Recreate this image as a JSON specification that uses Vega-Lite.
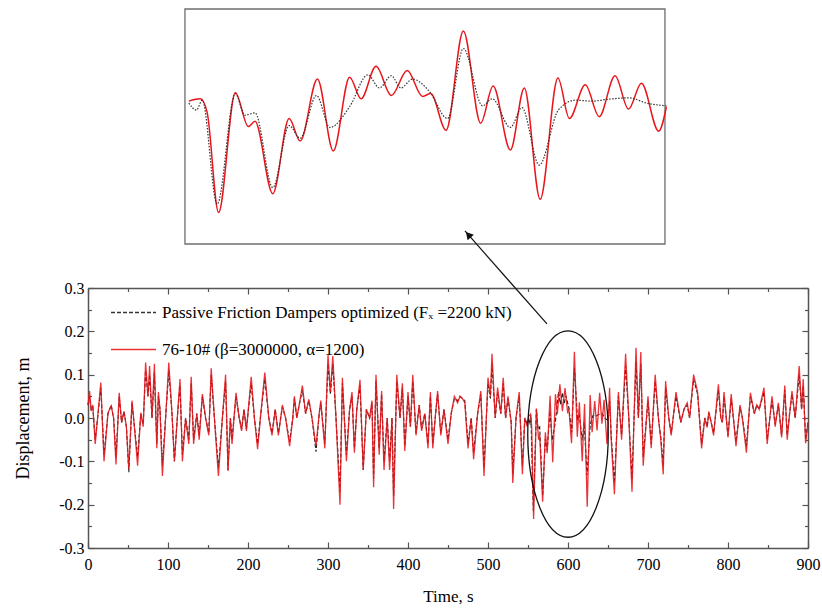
{
"$schema":"https://vega.github.io/schema/vega-lite/v6.json",
"background":"white",
"padding":{"left":14,"top":8,"right":5,"bottom":5},
"autosize":{"type":"pad"},
"config":{"view":{"stroke":null},"font":"Liberation Serif"},
"spacing":44,
"bounds":"flush",
"resolve":{"scale":{"color":"independent","strokeDash":"independent"}},
"datasets":{"d":[
{"t":0,"v":0.03,"s":"r"},{"t":2,"v":0.062,"s":"r"},{"t":4,"v":0.016,"s":"r"},{"t":6,"v":0.03,"s":"r"},{"t":9,"v":-0.06,"s":"r"},{"t":12,"v":0.0,"s":"r"},{"t":16,"v":0.082,"s":"r"},{"t":20,"v":-0.1,"s":"r"},{"t":25,"v":0.012,"s":"r"},{"t":29,"v":0.028,"s":"r"},{"t":32,"v":0.0,"s":"r"},{"t":35,"v":-0.107,"s":"r"},{"t":39,"v":0.058,"s":"r"},{"t":42,"v":-0.01,"s":"r"},{"t":45,"v":0.015,"s":"r"},{"t":48,"v":-0.02,"s":"r"},{"t":51,"v":-0.118,"s":"r"},{"t":55,"v":0.04,"s":"r"},{"t":58,"v":-0.02,"s":"r"},{"t":62,"v":-0.11,"s":"r"},{"t":66,"v":0.012,"s":"r"},{"t":69,"v":-0.02,"s":"r"},{"t":72,"v":0.128,"s":"r"},{"t":75,"v":0.05,"s":"r"},{"t":77,"v":0.12,"s":"r"},{"t":80,"v":0.0,"s":"r"},{"t":83,"v":0.125,"s":"r"},{"t":86,"v":-0.07,"s":"r"},{"t":88,"v":0.06,"s":"r"},{"t":90,"v":0.02,"s":"r"},{"t":93,"v":-0.134,"s":"r"},{"t":97,"v":0.0,"s":"r"},{"t":101,"v":0.128,"s":"r"},{"t":105,"v":0.01,"s":"r"},{"t":108,"v":-0.1,"s":"r"},{"t":112,"v":0.01,"s":"r"},{"t":115,"v":0.09,"s":"r"},{"t":118,"v":-0.1,"s":"r"},{"t":122,"v":0.0,"s":"r"},{"t":126,"v":-0.06,"s":"r"},{"t":129,"v":0.095,"s":"r"},{"t":132,"v":-0.06,"s":"r"},{"t":136,"v":0.01,"s":"r"},{"t":139,"v":-0.05,"s":"r"},{"t":143,"v":0.055,"s":"r"},{"t":147,"v":0.0,"s":"r"},{"t":151,"v":-0.04,"s":"r"},{"t":154,"v":0.115,"s":"r"},{"t":158,"v":0.0,"s":"r"},{"t":163,"v":-0.134,"s":"r"},{"t":168,"v":0.0,"s":"r"},{"t":172,"v":0.1,"s":"r"},{"t":175,"v":-0.122,"s":"r"},{"t":178,"v":0.0,"s":"r"},{"t":180,"v":-0.06,"s":"r"},{"t":185,"v":0.058,"s":"r"},{"t":189,"v":0.0,"s":"r"},{"t":192,"v":-0.03,"s":"r"},{"t":195,"v":0.02,"s":"r"},{"t":198,"v":-0.03,"s":"r"},{"t":204,"v":0.095,"s":"r"},{"t":208,"v":0.0,"s":"r"},{"t":212,"v":-0.072,"s":"r"},{"t":216,"v":0.01,"s":"r"},{"t":221,"v":0.105,"s":"r"},{"t":226,"v":0.0,"s":"r"},{"t":230,"v":-0.04,"s":"r"},{"t":234,"v":0.02,"s":"r"},{"t":238,"v":-0.04,"s":"r"},{"t":243,"v":0.03,"s":"r"},{"t":247,"v":0.0,"s":"r"},{"t":252,"v":-0.065,"s":"r"},{"t":256,"v":0.0,"s":"r"},{"t":258,"v":0.05,"s":"r"},{"t":261,"v":0.0,"s":"r"},{"t":264,"v":0.03,"s":"r"},{"t":268,"v":0.075,"s":"r"},{"t":272,"v":0.01,"s":"r"},{"t":276,"v":0.043,"s":"r"},{"t":280,"v":0.0,"s":"r"},{"t":285,"v":-0.065,"s":"r"},{"t":289,"v":0.01,"s":"r"},{"t":291,"v":0.04,"s":"r"},{"t":296,"v":-0.07,"s":"r"},{"t":300,"v":0.145,"s":"r"},{"t":303,"v":0.06,"s":"r"},{"t":306,"v":0.143,"s":"r"},{"t":310,"v":0.0,"s":"r"},{"t":315,"v":-0.2,"s":"r"},{"t":318,"v":0.093,"s":"r"},{"t":323,"v":-0.1,"s":"r"},{"t":327,"v":0.02,"s":"r"},{"t":330,"v":0.06,"s":"r"},{"t":333,"v":-0.08,"s":"r"},{"t":336,"v":0.02,"s":"r"},{"t":340,"v":0.088,"s":"r"},{"t":344,"v":-0.12,"s":"r"},{"t":348,"v":0.02,"s":"r"},{"t":352,"v":0.0,"s":"r"},{"t":355,"v":0.04,"s":"r"},{"t":357,"v":-0.16,"s":"r"},{"t":360,"v":0.1,"s":"r"},{"t":364,"v":-0.085,"s":"r"},{"t":367,"v":0.062,"s":"r"},{"t":370,"v":-0.12,"s":"r"},{"t":374,"v":0.0,"s":"r"},{"t":377,"v":-0.12,"s":"r"},{"t":380,"v":0.0,"s":"r"},{"t":382,"v":-0.21,"s":"r"},{"t":386,"v":0.1,"s":"r"},{"t":390,"v":0.0,"s":"r"},{"t":393,"v":0.08,"s":"r"},{"t":396,"v":-0.076,"s":"r"},{"t":400,"v":0.06,"s":"r"},{"t":403,"v":-0.02,"s":"r"},{"t":406,"v":0.1,"s":"r"},{"t":410,"v":-0.04,"s":"r"},{"t":414,"v":0.03,"s":"r"},{"t":417,"v":-0.03,"s":"r"},{"t":421,"v":0.01,"s":"r"},{"t":425,"v":-0.07,"s":"r"},{"t":428,"v":0.06,"s":"r"},{"t":431,"v":-0.07,"s":"r"},{"t":434,"v":0.0,"s":"r"},{"t":437,"v":0.062,"s":"r"},{"t":441,"v":-0.04,"s":"r"},{"t":445,"v":0.02,"s":"r"},{"t":450,"v":-0.06,"s":"r"},{"t":454,"v":0.01,"s":"r"},{"t":458,"v":0.05,"s":"r"},{"t":462,"v":0.035,"s":"r"},{"t":465,"v":0.05,"s":"r"},{"t":468,"v":0.045,"s":"r"},{"t":471,"v":0.035,"s":"r"},{"t":475,"v":-0.07,"s":"r"},{"t":479,"v":0.0,"s":"r"},{"t":482,"v":-0.095,"s":"r"},{"t":487,"v":0.01,"s":"r"},{"t":491,"v":0.062,"s":"r"},{"t":495,"v":-0.134,"s":"r"},{"t":500,"v":0.093,"s":"r"},{"t":503,"v":0.05,"s":"r"},{"t":505,"v":0.148,"s":"r"},{"t":509,"v":0.0,"s":"r"},{"t":512,"v":0.07,"s":"r"},{"t":516,"v":0.01,"s":"r"},{"t":519,"v":0.093,"s":"r"},{"t":522,"v":0.0,"s":"r"},{"t":525,"v":0.05,"s":"r"},{"t":529,"v":-0.01,"s":"r"},{"t":531,"v":-0.15,"s":"r"},{"t":535,"v":0.0,"s":"r"},{"t":539,"v":0.06,"s":"r"},{"t":543,"v":-0.13,"s":"r"},{"t":546,"v":0.0,"s":"r"},{"t":549,"v":-0.02,"s":"r"},
{"t":550.8,"v":0.004,"s":"r"},{"t":553.2,"v":0.009,"s":"r"},{"t":554.6,"v":-0.019,"s":"r"},{"t":557,"v":-0.233,"s":"r"},{"t":560.5,"v":0.022,"s":"r"},{"t":563.2,"v":-0.05,"s":"r"},{"t":564.6,"v":-0.039,"s":"r"},{"t":568.3,"v":-0.193,"s":"r"},{"t":571.7,"v":-0.033,"s":"r"},{"t":574,"v":-0.081,"s":"r"},{"t":577.6,"v":0.051,"s":"r"},{"t":580.9,"v":-0.102,"s":"r"},{"t":584.3,"v":0.055,"s":"r"},{"t":586.7,"v":0.009,"s":"r"},{"t":589.8,"v":0.078,"s":"r"},{"t":593,"v":0.016,"s":"r"},{"t":596.3,"v":0.069,"s":"r"},{"t":599.5,"v":0.014,"s":"r"},{"t":601.2,"v":0.02,"s":"r"},{"t":604.4,"v":-0.058,"s":"r"},{"t":608,"v":0.153,"s":"r"},{"t":611.6,"v":-0.043,"s":"r"},{"t":614.2,"v":0.036,"s":"r"},{"t":617.8,"v":-0.1,"s":"r"},{"t":620.7,"v":0.032,"s":"r"},{"t":624,"v":-0.205,"s":"r"},{"t":627.7,"v":0.053,"s":"r"},{"t":630.1,"v":-0.033,"s":"r"},{"t":633.4,"v":0.039,"s":"r"},{"t":636.3,"v":-0.029,"s":"r"},{"t":639.6,"v":0.058,"s":"r"},{"t":642.4,"v":-0.013,"s":"r"},{"t":645.1,"v":0.042,"s":"r"},{"t":648.7,"v":-0.06,"s":"r"},{"t":650.3,"v":-0.008,"s":"r"},
{"t":652,"v":0.07,"s":"r"},{"t":654,"v":-0.05,"s":"r"},{"t":658,"v":-0.176,"s":"r"},{"t":663,"v":0.06,"s":"r"},{"t":667,"v":-0.05,"s":"r"},{"t":672,"v":0.148,"s":"r"},{"t":676,"v":0.0,"s":"r"},{"t":680,"v":-0.17,"s":"r"},{"t":685,"v":0.162,"s":"r"},{"t":688,"v":0.0,"s":"r"},{"t":691,"v":0.152,"s":"r"},{"t":694,"v":-0.11,"s":"r"},{"t":700,"v":0.05,"s":"r"},{"t":704,"v":-0.07,"s":"r"},{"t":709,"v":0.1,"s":"r"},{"t":713,"v":0.0,"s":"r"},{"t":716,"v":-0.05,"s":"r"},{"t":719,"v":-0.13,"s":"r"},{"t":722,"v":0.085,"s":"r"},{"t":726,"v":0.0,"s":"r"},{"t":729,"v":-0.04,"s":"r"},{"t":735,"v":0.06,"s":"r"},{"t":741,"v":-0.01,"s":"r"},{"t":745,"v":0.02,"s":"r"},{"t":749,"v":0.035,"s":"r"},{"t":752,"v":0.0,"s":"r"},{"t":757,"v":0.1,"s":"r"},{"t":762,"v":0.06,"s":"r"},{"t":767,"v":-0.07,"s":"r"},{"t":771,"v":0.0,"s":"r"},{"t":774,"v":-0.022,"s":"r"},{"t":776,"v":0.015,"s":"r"},{"t":779,"v":-0.01,"s":"r"},{"t":782,"v":-0.04,"s":"r"},{"t":788,"v":0.078,"s":"r"},{"t":791,"v":0.0,"s":"r"},{"t":793,"v":-0.01,"s":"r"},{"t":795,"v":0.06,"s":"r"},{"t":800,"v":-0.045,"s":"r"},{"t":804,"v":0.055,"s":"r"},{"t":810,"v":-0.065,"s":"r"},{"t":815,"v":0.03,"s":"r"},{"t":818,"v":0.0,"s":"r"},{"t":823,"v":-0.08,"s":"r"},{"t":828,"v":0.058,"s":"r"},{"t":833,"v":0.01,"s":"r"},{"t":836,"v":0.03,"s":"r"},{"t":839,"v":0.02,"s":"r"},{"t":845,"v":0.07,"s":"r"},{"t":849,"v":-0.06,"s":"r"},{"t":855,"v":0.05,"s":"r"},{"t":859,"v":-0.02,"s":"r"},{"t":863,"v":0.035,"s":"r"},{"t":867,"v":-0.045,"s":"r"},{"t":871,"v":0.075,"s":"r"},{"t":874,"v":-0.05,"s":"r"},{"t":877,"v":0.01,"s":"r"},{"t":880,"v":0.062,"s":"r"},{"t":884,"v":0.0,"s":"r"},{"t":889,"v":0.12,"s":"r"},{"t":892,"v":0.02,"s":"r"},{"t":894,"v":0.09,"s":"r"},{"t":897,"v":-0.058,"s":"r"},{"t":900,"v":-0.01,"s":"r"},
{"t":0,"v":0.03,"s":"p"},{"t":2,"v":0.05,"s":"p"},{"t":4,"v":0.02,"s":"p"},{"t":6,"v":0.025,"s":"p"},{"t":9,"v":-0.05,"s":"p"},{"t":12,"v":0.0,"s":"p"},{"t":16,"v":0.07,"s":"p"},{"t":20,"v":-0.085,"s":"p"},{"t":25,"v":0.01,"s":"p"},{"t":29,"v":0.03,"s":"p"},{"t":32,"v":0.0,"s":"p"},{"t":35,"v":-0.09,"s":"p"},{"t":39,"v":0.05,"s":"p"},{"t":42,"v":-0.01,"s":"p"},{"t":45,"v":0.015,"s":"p"},{"t":48,"v":-0.02,"s":"p"},{"t":51,"v":-0.125,"s":"p"},{"t":55,"v":0.035,"s":"p"},{"t":58,"v":-0.02,"s":"p"},{"t":62,"v":-0.09,"s":"p"},{"t":66,"v":0.01,"s":"p"},{"t":69,"v":-0.015,"s":"p"},{"t":72,"v":0.11,"s":"p"},{"t":75,"v":0.05,"s":"p"},{"t":77,"v":0.1,"s":"p"},{"t":80,"v":0.0,"s":"p"},{"t":83,"v":0.105,"s":"p"},{"t":86,"v":-0.06,"s":"p"},{"t":88,"v":0.05,"s":"p"},{"t":90,"v":0.02,"s":"p"},{"t":93,"v":-0.11,"s":"p"},{"t":97,"v":0.0,"s":"p"},{"t":101,"v":0.11,"s":"p"},{"t":105,"v":0.01,"s":"p"},{"t":108,"v":-0.1,"s":"p"},{"t":112,"v":0.01,"s":"p"},{"t":115,"v":0.075,"s":"p"},{"t":118,"v":-0.085,"s":"p"},{"t":122,"v":0.0,"s":"p"},{"t":126,"v":-0.05,"s":"p"},{"t":129,"v":0.08,"s":"p"},{"t":132,"v":-0.05,"s":"p"},{"t":136,"v":0.01,"s":"p"},{"t":139,"v":-0.04,"s":"p"},{"t":143,"v":0.05,"s":"p"},{"t":147,"v":0.0,"s":"p"},{"t":151,"v":-0.035,"s":"p"},{"t":154,"v":0.1,"s":"p"},{"t":158,"v":0.0,"s":"p"},{"t":163,"v":-0.115,"s":"p"},{"t":168,"v":0.0,"s":"p"},{"t":172,"v":0.085,"s":"p"},{"t":175,"v":-0.12,"s":"p"},{"t":178,"v":0.0,"s":"p"},{"t":180,"v":-0.05,"s":"p"},{"t":185,"v":0.05,"s":"p"},{"t":189,"v":0.0,"s":"p"},{"t":192,"v":-0.025,"s":"p"},{"t":195,"v":0.02,"s":"p"},{"t":198,"v":-0.025,"s":"p"},{"t":204,"v":0.08,"s":"p"},{"t":208,"v":0.0,"s":"p"},{"t":212,"v":-0.06,"s":"p"},{"t":216,"v":0.01,"s":"p"},{"t":221,"v":0.09,"s":"p"},{"t":226,"v":0.0,"s":"p"},{"t":230,"v":-0.035,"s":"p"},{"t":234,"v":0.02,"s":"p"},{"t":238,"v":-0.035,"s":"p"},{"t":243,"v":0.025,"s":"p"},{"t":247,"v":0.0,"s":"p"},{"t":252,"v":-0.055,"s":"p"},{"t":256,"v":0.0,"s":"p"},{"t":258,"v":0.045,"s":"p"},{"t":261,"v":0.0,"s":"p"},{"t":264,"v":0.03,"s":"p"},{"t":268,"v":0.065,"s":"p"},{"t":272,"v":0.01,"s":"p"},{"t":276,"v":0.04,"s":"p"},{"t":280,"v":0.0,"s":"p"},{"t":285,"v":-0.078,"s":"p"},{"t":289,"v":0.01,"s":"p"},{"t":291,"v":0.035,"s":"p"},{"t":296,"v":-0.06,"s":"p"},{"t":300,"v":0.125,"s":"p"},{"t":303,"v":0.055,"s":"p"},{"t":306,"v":0.125,"s":"p"},{"t":310,"v":0.0,"s":"p"},{"t":315,"v":-0.17,"s":"p"},{"t":318,"v":0.08,"s":"p"},{"t":323,"v":-0.085,"s":"p"},{"t":327,"v":0.02,"s":"p"},{"t":330,"v":0.05,"s":"p"},{"t":333,"v":-0.07,"s":"p"},{"t":336,"v":0.02,"s":"p"},{"t":340,"v":0.075,"s":"p"},{"t":344,"v":-0.12,"s":"p"},{"t":348,"v":0.02,"s":"p"},{"t":352,"v":0.0,"s":"p"},{"t":355,"v":0.035,"s":"p"},{"t":357,"v":-0.14,"s":"p"},{"t":360,"v":0.085,"s":"p"},{"t":364,"v":-0.07,"s":"p"},{"t":367,"v":0.055,"s":"p"},{"t":370,"v":-0.1,"s":"p"},{"t":374,"v":0.0,"s":"p"},{"t":377,"v":-0.1,"s":"p"},{"t":380,"v":0.0,"s":"p"},{"t":382,"v":-0.18,"s":"p"},{"t":386,"v":0.085,"s":"p"},{"t":390,"v":0.0,"s":"p"},{"t":393,"v":0.07,"s":"p"},{"t":396,"v":-0.065,"s":"p"},{"t":400,"v":0.05,"s":"p"},{"t":403,"v":-0.02,"s":"p"},{"t":406,"v":0.085,"s":"p"},{"t":410,"v":-0.035,"s":"p"},{"t":414,"v":0.03,"s":"p"},{"t":417,"v":-0.025,"s":"p"},{"t":421,"v":0.01,"s":"p"},{"t":425,"v":-0.06,"s":"p"},{"t":428,"v":0.05,"s":"p"},{"t":431,"v":-0.06,"s":"p"},{"t":434,"v":0.0,"s":"p"},{"t":437,"v":0.055,"s":"p"},{"t":441,"v":-0.035,"s":"p"},{"t":445,"v":0.02,"s":"p"},{"t":450,"v":-0.05,"s":"p"},{"t":454,"v":0.01,"s":"p"},{"t":458,"v":0.045,"s":"p"},{"t":462,"v":0.04,"s":"p"},{"t":465,"v":0.05,"s":"p"},{"t":468,"v":0.045,"s":"p"},{"t":471,"v":0.04,"s":"p"},{"t":475,"v":-0.06,"s":"p"},{"t":479,"v":0.0,"s":"p"},{"t":482,"v":-0.08,"s":"p"},{"t":487,"v":0.01,"s":"p"},{"t":491,"v":0.055,"s":"p"},{"t":495,"v":-0.115,"s":"p"},{"t":500,"v":0.08,"s":"p"},{"t":503,"v":0.045,"s":"p"},{"t":505,"v":0.125,"s":"p"},{"t":509,"v":0.0,"s":"p"},{"t":512,"v":0.06,"s":"p"},{"t":516,"v":0.01,"s":"p"},{"t":519,"v":0.08,"s":"p"},{"t":522,"v":0.0,"s":"p"},{"t":525,"v":0.045,"s":"p"},{"t":529,"v":-0.01,"s":"p"},{"t":531,"v":-0.13,"s":"p"},{"t":535,"v":0.0,"s":"p"},{"t":539,"v":0.05,"s":"p"},{"t":543,"v":-0.11,"s":"p"},{"t":546,"v":0.0,"s":"p"},{"t":549,"v":-0.015,"s":"p"},
{"t":550.8,"v":0.0,"s":"p"},{"t":552.4,"v":-0.015,"s":"p"},{"t":553.6,"v":0.006,"s":"p"},{"t":556.7,"v":-0.215,"s":"p"},{"t":560.5,"v":0.02,"s":"p"},{"t":562.5,"v":-0.026,"s":"p"},{"t":564.6,"v":-0.021,"s":"p"},{"t":568.3,"v":-0.18,"s":"p"},{"t":571.7,"v":-0.048,"s":"p"},{"t":574,"v":-0.075,"s":"p"},{"t":577.4,"v":0.016,"s":"p"},{"t":580.2,"v":-0.052,"s":"p"},{"t":584.3,"v":-0.008,"s":"p"},{"t":588.1,"v":0.06,"s":"p"},{"t":590.5,"v":0.032,"s":"p"},{"t":593,"v":0.058,"s":"p"},{"t":595,"v":0.032,"s":"p"},{"t":597.4,"v":0.051,"s":"p"},{"t":600.9,"v":0.025,"s":"p"},{"t":604.7,"v":-0.033,"s":"p"},{"t":608,"v":0.116,"s":"p"},{"t":612,"v":-0.006,"s":"p"},{"t":614,"v":0.009,"s":"p"},{"t":617.8,"v":-0.052,"s":"p"},{"t":620.2,"v":-0.01,"s":"p"},{"t":623.8,"v":-0.132,"s":"p"},{"t":627.8,"v":-0.015,"s":"p"},{"t":631.3,"v":0.006,"s":"p"},{"t":634.8,"v":0.004,"s":"p"},{"t":638.2,"v":0.008,"s":"p"},{"t":642.4,"v":0.011,"s":"p"},{"t":646.5,"v":-0.001,"s":"p"},{"t":650.3,"v":-0.006,"s":"p"},
{"t":652,"v":0.04,"s":"p"},{"t":654,"v":-0.04,"s":"p"},{"t":658,"v":-0.15,"s":"p"},{"t":663,"v":0.05,"s":"p"},{"t":667,"v":-0.04,"s":"p"},{"t":672,"v":0.12,"s":"p"},{"t":676,"v":0.0,"s":"p"},{"t":680,"v":-0.14,"s":"p"},{"t":685,"v":0.13,"s":"p"},{"t":688,"v":0.0,"s":"p"},{"t":691,"v":0.125,"s":"p"},{"t":694,"v":-0.09,"s":"p"},{"t":700,"v":0.04,"s":"p"},{"t":704,"v":-0.06,"s":"p"},{"t":709,"v":0.085,"s":"p"},{"t":713,"v":0.0,"s":"p"},{"t":716,"v":-0.045,"s":"p"},{"t":719,"v":-0.11,"s":"p"},{"t":722,"v":0.07,"s":"p"},{"t":726,"v":0.0,"s":"p"},{"t":729,"v":-0.035,"s":"p"},{"t":735,"v":0.05,"s":"p"},{"t":741,"v":-0.01,"s":"p"},{"t":745,"v":0.02,"s":"p"},{"t":749,"v":0.03,"s":"p"},{"t":752,"v":0.0,"s":"p"},{"t":757,"v":0.09,"s":"p"},{"t":762,"v":0.055,"s":"p"},{"t":767,"v":-0.06,"s":"p"},{"t":771,"v":0.0,"s":"p"},{"t":774,"v":-0.02,"s":"p"},{"t":776,"v":0.012,"s":"p"},{"t":779,"v":-0.01,"s":"p"},{"t":782,"v":-0.035,"s":"p"},{"t":788,"v":0.065,"s":"p"},{"t":791,"v":0.0,"s":"p"},{"t":793,"v":-0.01,"s":"p"},{"t":795,"v":0.05,"s":"p"},{"t":800,"v":-0.04,"s":"p"},{"t":804,"v":0.045,"s":"p"},{"t":810,"v":-0.055,"s":"p"},{"t":815,"v":0.025,"s":"p"},{"t":818,"v":0.0,"s":"p"},{"t":823,"v":-0.065,"s":"p"},{"t":828,"v":0.05,"s":"p"},{"t":833,"v":0.01,"s":"p"},{"t":836,"v":0.03,"s":"p"},{"t":839,"v":0.02,"s":"p"},{"t":845,"v":0.06,"s":"p"},{"t":849,"v":-0.05,"s":"p"},{"t":855,"v":0.04,"s":"p"},{"t":859,"v":-0.015,"s":"p"},{"t":863,"v":0.03,"s":"p"},{"t":867,"v":-0.04,"s":"p"},{"t":871,"v":0.065,"s":"p"},{"t":874,"v":-0.04,"s":"p"},{"t":877,"v":0.01,"s":"p"},{"t":880,"v":0.055,"s":"p"},{"t":884,"v":0.0,"s":"p"},{"t":889,"v":0.1,"s":"p"},{"t":892,"v":0.02,"s":"p"},{"t":894,"v":0.075,"s":"p"},{"t":897,"v":-0.05,"s":"p"},{"t":900,"v":-0.01,"s":"p"}
]},
"vconcat":[
{
"width":720,"height":235,
"layer":[
{"data":{"values":[{"t0":550,"t1":650,"y0":-0.3,"y1":0.2}]},
 "mark":{"type":"rect","filled":false,"stroke":"#6e6e6e","strokeWidth":1.3},
 "encoding":{"x":{"field":"t0","type":"quantitative","scale":{"domain":[529.8,679.8],"nice":false,"zero":false},"axis":null},"x2":{"field":"t1"},
  "y":{"field":"y0","type":"quantitative","scale":{"domain":[-0.3,0.2],"nice":false,"zero":false},"axis":null},"y2":{"field":"y1"}}},
{"data":{"name":"d"},"transform":[{"filter":{"field":"s","equal":"r"}},{"filter":{"field":"t","range":[550,651]}}],
 "mark":{"type":"line","color":"#e8161b","strokeWidth":1.5,"interpolate":"monotone"},
 "encoding":{"x":{"field":"t","type":"quantitative","scale":{"domain":[529.8,679.8],"nice":false,"zero":false},"axis":null},
  "y":{"field":"v","type":"quantitative","scale":{"domain":[-0.3,0.2],"nice":false,"zero":false},"axis":null}}},
{"data":{"name":"d"},"transform":[{"filter":{"field":"s","equal":"p"}},{"filter":{"field":"t","range":[550,651]}}],
 "mark":{"type":"line","color":"#333333","strokeWidth":1.2,"strokeDash":[1.5,1.5],"interpolate":"monotone"},
 "encoding":{"x":{"field":"t","type":"quantitative","scale":{"domain":[529.8,679.8],"nice":false,"zero":false},"axis":null},
  "y":{"field":"v","type":"quantitative","scale":{"domain":[-0.3,0.2],"nice":false,"zero":false},"axis":null}}}
]
},
{
"width":720,"height":260,
"resolve":{"axis":{"x":"independent","y":"independent"}},
"layer":[
{"data":{"name":"d"},"transform":[{"filter":{"field":"s","equal":"p"}}],
 "mark":{"type":"line","strokeWidth":1.1},
 "encoding":{
  "x":{"field":"t","type":"quantitative","scale":{"domain":[0,900],"nice":false},
   "axis":{"orient":"bottom","values":[0,50,100,150,200,250,300,350,400,450,500,550,600,650,700,750,800,850,900],"format":"d",
    "labelExpr":"datum.value % 100 == 0 ? datum.label : ''",
    "tickSize":{"condition":{"test":"datum.value % 100 == 0","value":-6},"value":-3.5},
    "title":"Time, s","titleFontSize":17,"titleFontWeight":"normal","titleColor":"#000","titlePadding":14,
    "labelFontSize":16,"labelColor":"#000","labelPadding":14,"labelFlush":false,"labelOverlap":false,
    "domainColor":"#555","domainWidth":1.5,"tickColor":"#555","tickWidth":1.2,"grid":false}},
  "y":{"field":"v","type":"quantitative","scale":{"domain":[-0.3,0.3],"nice":false,"zero":false},
   "axis":{"orient":"left","values":[-0.3,-0.25,-0.2,-0.15,-0.1,-0.05,0,0.05,0.1,0.15,0.2,0.25,0.3],
    "labelExpr":"abs(round(datum.value*20)) % 2 == 0 ? replace(format(datum.value,'.1f'),'\u2212','-') : ''",
    "tickSize":{"condition":{"test":"abs(round(datum.value*20)) % 2 == 0","value":-6},"value":-3.5},
    "title":"Displacement, m","titleFontSize":18,"titleFontWeight":"normal","titleColor":"#000","titlePadding":26,
    "labelFontSize":16,"labelColor":"#000","labelPadding":10,"labelFlush":false,"labelOverlap":false,
    "domainColor":"#555","domainWidth":1.5,"tickColor":"#555","tickWidth":1.2,"grid":false}},
  "color":{"field":"s","type":"nominal","scale":{"domain":["p","r"],"range":["#1a1a1a","#e8161b"]},
   "legend":{"orient":"none","legendX":22,"legendY":1,"title":null,"symbolType":"stroke","symbolSize":2025,"symbolStrokeWidth":1.3,
    "labelFontSize":17,"labelColor":"#000","labelOffset":5,"rowPadding":5,"labelLimit":600,
    "labelExpr":"datum.label == 'p' ? 'Passive Friction Dampers optimized  (F\u2093 =2200 kN)' : '76-10# (\u03b2=3000000, \u03b1=1200)'"}},
  "strokeDash":{"field":"s","type":"nominal","scale":{"domain":["p","r"],"range":[[4,2],[1,0]]},
   "legend":{"orient":"none","legendX":22,"legendY":1,"title":null,"symbolType":"stroke","symbolSize":2025,"symbolStrokeWidth":1.3,
    "labelFontSize":17,"labelColor":"#000","labelOffset":5,"rowPadding":5,"labelLimit":600,
    "labelExpr":"datum.label == 'p' ? 'Passive Friction Dampers optimized  (F\u2093 =2200 kN)' : '76-10# (\u03b2=3000000, \u03b1=1200)'"}}
 }},
{"data":{"name":"d"},"transform":[{"filter":{"field":"s","equal":"r"}}],
 "mark":{"type":"line","strokeWidth":1.3,"opacity":0.88},
 "encoding":{
  "x":{"field":"t","type":"quantitative","scale":{"domain":[0,900],"nice":false},"axis":null},
  "y":{"field":"v","type":"quantitative","scale":{"domain":[-0.3,0.3],"nice":false,"zero":false},"axis":null},
  "color":{"field":"s","type":"nominal","scale":{"domain":["p","r"],"range":["#1a1a1a","#e8161b"]}},
  "strokeDash":{"field":"s","type":"nominal","scale":{"domain":["p","r"],"range":[[4,2],[1,0]]}}
 }},
{"data":{"values":[{"t":600,"v":-0.037}]},
 "mark":{"type":"point","shape":"M -0.39 0 A 0.39 1 0 1 1 0.39 0 A 0.39 1 0 1 1 -0.39 0 Z","size":42600,"filled":false,"stroke":"#111","strokeWidth":1.3,"opacity":1},
 "encoding":{
  "x":{"field":"t","type":"quantitative","scale":{"domain":[0,900],"nice":false},
   "axis":{"orient":"top","values":[0,50,100,150,200,250,300,350,400,450,500,550,600,650,700,750,800,850,900],"labels":false,"title":null,
    "tickSize":{"condition":{"test":"datum.value % 100 == 0","value":-6},"value":-3.5},
    "domainColor":"#555","domainWidth":1.5,"tickColor":"#555","tickWidth":1.2,"grid":false}},
  "y":{"field":"v","type":"quantitative","scale":{"domain":[-0.3,0.3],"nice":false,"zero":false},
   "axis":{"orient":"right","values":[-0.3,-0.25,-0.2,-0.15,-0.1,-0.05,0,0.05,0.1,0.15,0.2,0.25,0.3],"labels":false,"title":null,
    "tickSize":{"condition":{"test":"abs(round(datum.value*20)) % 2 == 0","value":-6},"value":-3.5},
    "domainColor":"#555","domainWidth":1.5,"tickColor":"#555","tickWidth":1.2,"grid":false}}
 }},
{"data":{"values":[{"t":471.25,"v":0.4316,"t2":573.75,"v2":0.217}]},
 "mark":{"type":"rule","color":"#111","strokeWidth":1.2},
 "encoding":{"x":{"field":"t","type":"quantitative","scale":{"domain":[0,900],"nice":false},"axis":null},"x2":{"field":"t2"},
  "y":{"field":"v","type":"quantitative","scale":{"domain":[-0.3,0.3],"nice":false,"zero":false},"axis":null},"y2":{"field":"v2"}}},
{"data":{"values":[{"t":475.4,"v":0.423}]},
 "mark":{"type":"point","shape":"triangle-up","size":70,"filled":true,"color":"#111","opacity":1,"angle":318.6},
 "encoding":{"x":{"field":"t","type":"quantitative","scale":{"domain":[0,900],"nice":false},"axis":null},
  "y":{"field":"v","type":"quantitative","scale":{"domain":[-0.3,0.3],"nice":false,"zero":false},"axis":null}}}
]
}
]
}
